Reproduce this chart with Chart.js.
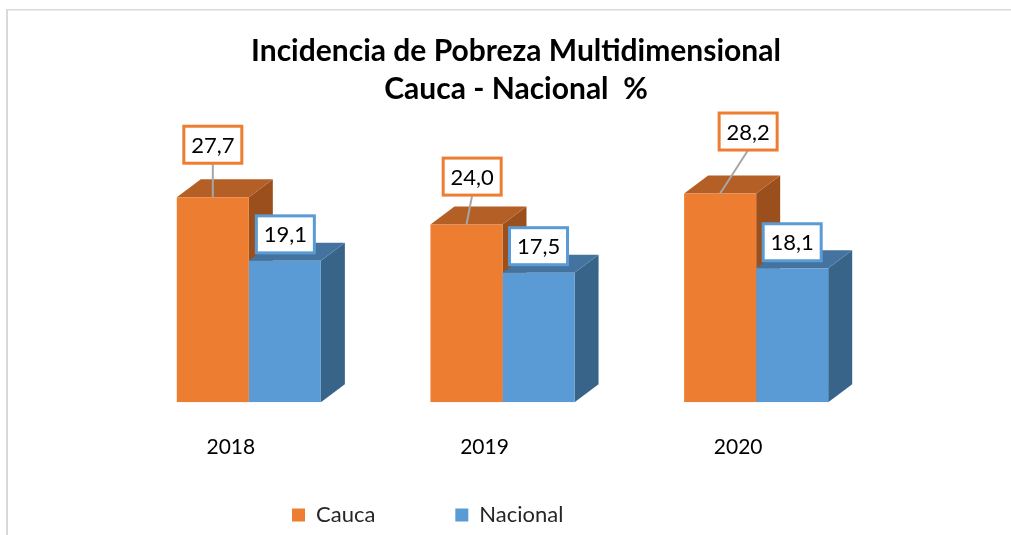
<!DOCTYPE html>
<html>
<head>
<meta charset="utf-8">
<title>Incidencia de Pobreza Multidimensional</title>
<script src="https://cdn.jsdelivr.net/npm/chart.js@4"></script>
<style>
    body { margin: 0; background: #fff; }
    canvas { display: block; }
</style>
</head>
<body>
<canvas id="chart" width="1011" height="535"></canvas>
<script>
// ===== DATA =====
const YEARS = ['2018', '2019', '2020'];
const CAUCA = [27.7, 24.0, 28.2];
const NACIONAL = [19.1, 17.5, 18.1];
const TITLE_LINES = ['Incidencia de Pobreza Multidimensional', 'Cauca - Nacional  %'];

// desplazamiento de cada etiqueta respecto a la barra [dx, dy]
const CAUCA_LABEL_OFFSET = [[0, -52.5], [5.7, -48], [28, -62]];
const NACIONAL_LABEL_OFFSET = [[0.5, -26.5], [0, -26.5], [0, -26]];

const DEPTH_X = 24;
const DEPTH_Y = 18;
const FACES = [
    { top: '#b45f26', side: '#9a4f1d', border: '#ed7d31' },
    { top: '#44739f', side: '#396489', border: '#5b9bd5' }
];
const FONT = 'Lato, sans-serif';

// marco del grafico
const framePlugin = {
    id: 'frame',
    beforeDraw(chart) {
        const c = chart.ctx;
        c.save();
        c.fillStyle = '#d9d9d9';
        c.fillRect(6, 9, chart.width - 6, 1.5);
        c.fillRect(6, 9, 2, chart.height - 9);
        c.restore();
    }
};

// caras laterales y superiores de las barras
const depthPlugin = {
    id: 'depth',
    beforeDatasetsDraw(chart) {
        const c = chart.ctx;
        chart.data.datasets.forEach((ds, i) => {
            chart.getDatasetMeta(i).data.forEach((bar) => {
                const left = bar.x - bar.width / 2;
                const right = bar.x + bar.width / 2;
                c.fillStyle = FACES[i].side;
                c.beginPath();
                c.moveTo(right, bar.y);
                c.lineTo(right + DEPTH_X, bar.y - DEPTH_Y);
                c.lineTo(right + DEPTH_X, bar.base - DEPTH_Y);
                c.lineTo(right, bar.base);
                c.closePath();
                c.fill();
                c.fillStyle = FACES[i].top;
                c.beginPath();
                c.moveTo(left, bar.y);
                c.lineTo(left + DEPTH_X, bar.y - DEPTH_Y);
                c.lineTo(right + DEPTH_X, bar.y - DEPTH_Y);
                c.lineTo(right, bar.y);
                c.closePath();
                c.fill();
            });
        });
    }
};

// etiquetas con recuadro y linea guia
const calloutPlugin = {
    id: 'callout',
    afterDatasetsDraw(chart) {
        const c = chart.ctx;
        const offsets = [CAUCA_LABEL_OFFSET, NACIONAL_LABEL_OFFSET];
        const boxW = 58;
        const boxH = 37;
        c.save();
        chart.data.datasets.forEach((ds, i) => {
            chart.getDatasetMeta(i).data.forEach((bar, j) => {
                const cx = bar.x + offsets[i][j][0];
                const cy = bar.y + offsets[i][j][1];
                if (i === 0) {
                    c.strokeStyle = '#a6a6a6';
                    c.lineWidth = 2;
                    c.beginPath();
                    c.moveTo(bar.x, bar.y);
                    c.lineTo(cx, cy + boxH / 2);
                    c.stroke();
                }
                c.fillStyle = '#fff';
                c.fillRect(cx - boxW / 2, cy - boxH / 2, boxW, boxH);
                c.strokeStyle = FACES[i].border;
                c.lineWidth = 3;
                c.strokeRect(cx - boxW / 2, cy - boxH / 2, boxW, boxH);
                c.fillStyle = '#000';
                c.font = '22px ' + FONT;
                c.textAlign = 'center';
                c.textBaseline = 'middle';
                c.fillText(ds.data[j].toFixed(1).replace('.', ','), cx, cy + 1);
            });
        });
        c.restore();
    }
};

// titulo y leyenda no van centrados sobre el area de barras
const placementPlugin = {
    id: 'placement',
    afterInit(chart) {
        const lg = chart.legend;
        const fit = lg.fit;
        lg.fit = function () {
            fit.call(this);
            this.height = 0;
        };
    },
    afterLayout(chart) {
        chart.titleBlock.left += 13.5;
        chart.titleBlock.right += 13.5;
        const lg = chart.legend;
        const pad = lg.options.labels.padding;
        lg.left = 292 - pad;
        lg.right = 1011;
        lg.top = 516 - pad - 12;
        lg.bottom = 535;
    }
};

new Chart(document.getElementById('chart'), {
    type: 'bar',
    data: {
        labels: YEARS,
        datasets: [
            { label: 'Cauca', data: CAUCA, backgroundColor: '#ed7d31', barPercentage: 1, categoryPercentage: 0.568 },
            { label: 'Nacional', data: NACIONAL, backgroundColor: '#5b9bd5', barPercentage: 1, categoryPercentage: 0.568 }
        ]
    },
    options: {
        responsive: false,
        animation: false,
        layout: { padding: { left: 122, right: 128, top: 32, bottom: 51.6 } },
        plugins: {
            title: {
                display: true,
                text: TITLE_LINES,
                color: '#000',
                font: { family: FONT, size: 30, weight: 'bold', lineHeight: 38 / 30 },
                padding: { top: 0, bottom: 13 }
            },
            legend: {
                position: 'bottom',
                align: 'start',
                labels: {
                    boxWidth: 13,
                    boxHeight: 13,
                    padding: 80,
                    color: '#262626',
                    font: { family: FONT, size: 22 }
                }
            },
            tooltip: { enabled: false }
        },
        scales: {
            x: {
                grid: { display: false },
                border: { display: false },
                ticks: {
                    color: '#000',
                    padding: 24,
                    labelOffset: -18,
                    font: { family: FONT, size: 21 }
                }
            },
            y: { display: false, min: 0, max: 38 }
        }
    },
    plugins: [framePlugin, depthPlugin, calloutPlugin, placementPlugin]
});
</script>
</body>
</html>
